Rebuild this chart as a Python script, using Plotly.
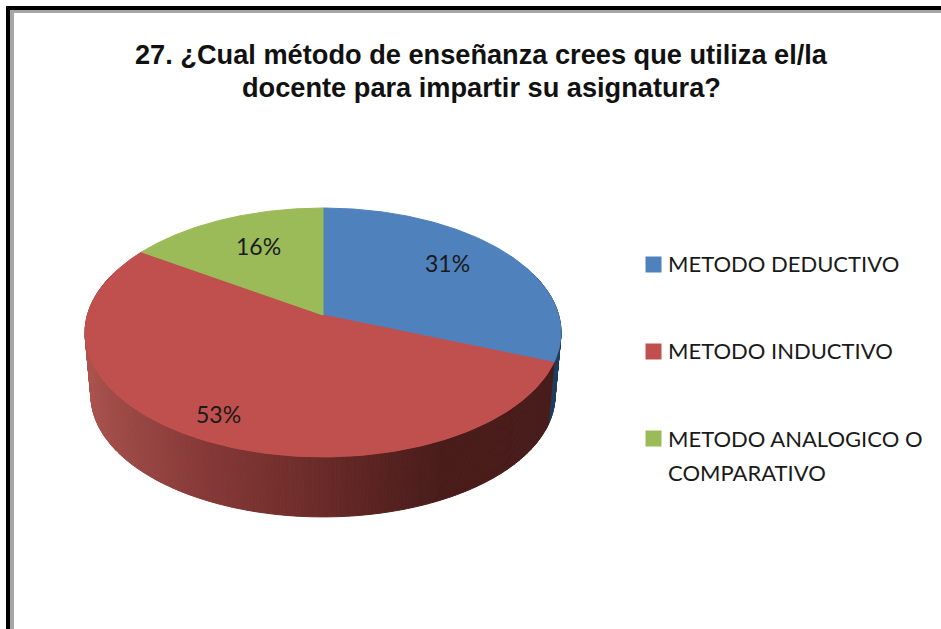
import numpy as np
import plotly.graph_objects as go

# ---- data ----
categories = ["METODO DEDUCTIVO", "METODO INDUCTIVO", "METODO ANALOGICO O"]
category_extra_line = "COMPARATIVO"
values = [31.0, 53.4, 15.6]
title_lines = ["27. ¿Cual método de enseñanza crees que utiliza el/la",
               "docente para impartir su asignatura?"]

# ---- style ----
top_colors = ["#4F81BD", "#C0504D", "#9BBB59"]
side_colors = {0: (31, 62, 94), 2: (90, 110, 50)}
label_pos = [(447, 263), (218, 414), (258, 246)]
legend_y = [263, 350, 438]
marker_y = [264.5, 351.5, 438.5]
W, H = 941, 629
CX, CY = 323, 315          # apex of the pie
A, B, K = 235.6, 122.0, 0.1405   # ellipse radii and perspective
DROP, SHRINK = 63.5, 0.975


def project(t, lower=False):
    s, c = np.sin(t), np.cos(t)
    w = 1 + K * c
    x, y = A * s / w, -B * c / w
    if lower:
        return CX + x * SHRINK, CY + DROP + y * SHRINK
    return CX + x, CY + y


def red_side(x):
    xs = [85, 110, 200, 300, 400, 440, 560]
    rs = [172, 160, 135, 112, 84, 74, 72]
    gs = [84, 76, 58, 46, 33, 29, 28]
    bs = [80, 72, 56, 44, 31, 27, 26]
    return "rgb(%d,%d,%d)" % (np.interp(x, xs, rs), np.interp(x, xs, gs), np.interp(x, xs, bs))


fracs = np.array(values, dtype=float) / sum(values)
edges = np.concatenate([[0], np.cumsum(fracs)]) * 2 * np.pi

fig = go.Figure()


def poly(xs, ys, color):
    fig.add_trace(go.Scatter(
        x=xs, y=ys, mode="lines", fill="toself", fillcolor=color,
        line=dict(color=color, width=1), hoverinfo="skip", showlegend=False))


# side wall
for i in range(len(values)):
    ts = np.linspace(edges[i], edges[i + 1], max(4, int((edges[i + 1] - edges[i]) / 0.012)))
    for t0, t1 in zip(ts[:-1], ts[1:]):
        tm = (t0 + t1) / 2
        if np.cos(tm) > 0.35:
            continue
        x0, y0 = project(t0)
        x1, y1 = project(t1)
        x2, y2 = project(t1, True)
        x3, y3 = project(t0, True)
        col = red_side((x0 + x1) / 2) if i == 1 else "rgb(%d,%d,%d)" % side_colors[i]
        poly([x0, x1, x2, x3, x0], [y0, y1, y2, y3, y0], col)

# top faces
for i in range(len(values)):
    ts = np.linspace(edges[i], edges[i + 1], 200)
    px, py = project(ts)
    poly(np.r_[CX, px, CX], np.r_[CY, py, CY], top_colors[i])

# legend markers
for y, col in zip(marker_y, top_colors):
    fig.add_trace(go.Scatter(x=[653.5], y=[y], mode="markers",
                             marker=dict(symbol="square", size=16, color=col),
                             hoverinfo="skip", showlegend=False))

TEXT = "#1a1a1a"
ann = []
for (x, y), v in zip(label_pos, values):
    ann.append(dict(x=x, y=y, text=f"{round(v)}%", showarrow=False, xref="x", yref="y",
                    font=dict(family="Lato", size=23, color=TEXT)))
for y, c in zip(legend_y, categories):
    ann.append(dict(x=666, y=y, text=c, showarrow=False, xref="x", yref="y",
                    xanchor="left", yanchor="middle", align="left",
                    font=dict(family="Lato", size=22, color=TEXT)))
ann.append(dict(x=666, y=472, text=category_extra_line, showarrow=False, xref="x", yref="y",
                xanchor="left", yanchor="middle", align="left",
                font=dict(family="Lato", size=22, color=TEXT)))
for y, line in zip([54, 87], title_lines):
    ann.append(dict(x=481, y=y, text=f"<b>{line}</b>", showarrow=False, xref="x", yref="y",
                    font=dict(family="Liberation Sans", size=27.2, color="#111111")))

shapes = [
    dict(type="rect", x0=6, x1=10, y0=6, y1=H, xref="x", yref="y", fillcolor="#000000", line_width=0),
    dict(type="rect", x0=6, x1=W, y0=6, y1=10, xref="x", yref="y", fillcolor="#000000", line_width=0),
    dict(type="rect", x0=10, x1=14, y0=10, y1=H, xref="x", yref="y", fillcolor="#A6A6A6", line_width=0),
    dict(type="rect", x0=10, x1=W, y0=10, y1=13, xref="x", yref="y", fillcolor="#A6A6A6", line_width=0),
]

fig.update_layout(
    width=W, height=H, margin=dict(l=0, r=0, t=0, b=0),
    paper_bgcolor="white", plot_bgcolor="white", showlegend=False,
    xaxis=dict(range=[0, W], visible=False, fixedrange=True),
    yaxis=dict(range=[H, 0], visible=False, fixedrange=True),
    annotations=ann, shapes=shapes,
)
fig.write_html("out.html", config={"displayModeBar": False},
               post_script="document.body.style.margin='0';document.body.style.overflow='hidden';")
